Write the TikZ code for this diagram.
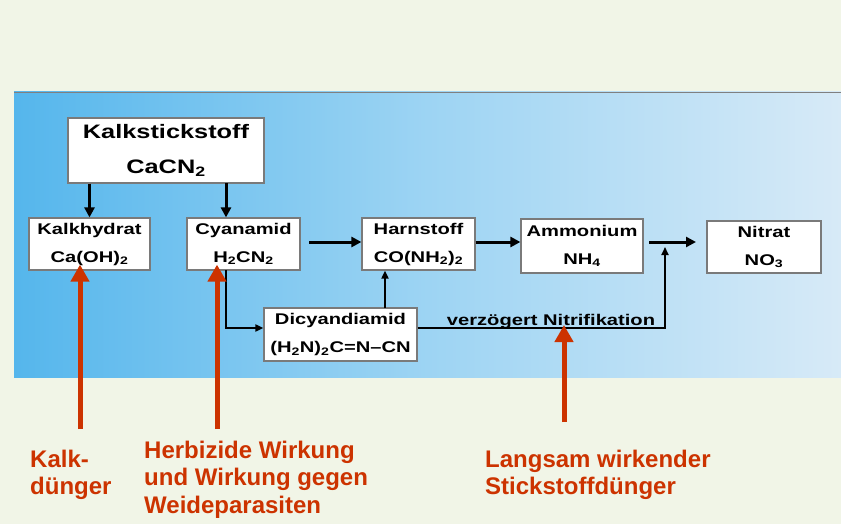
\documentclass[tikz,border=0pt]{standalone}
\usepackage{fontspec}
\setmainfont{Liberation Sans}
\newfontfamily\boxfont[FakeStretch=1.3]{Liberation Sans}
\usetikzlibrary{arrows.meta}
\definecolor{bgcream}{HTML}{F1F5E7}
\definecolor{blueL}{HTML}{55B6EC}
\definecolor{blueM}{HTML}{9DD4F3}
\definecolor{blueR}{HTML}{D7EAF7}
\definecolor{redA}{HTML}{CC3300}
\definecolor{boxgray}{HTML}{7A7A7A}
\begin{document}
\begin{tikzpicture}[x=1pt,y=-1pt,
  box/.style={draw=boxgray, line width=1.2pt, fill=white, inner sep=0pt, align=center,
    font=\boxfont\bfseries\fontsize{15.5}{28}\selectfont},
  bigbox/.style={box, font=\boxfont\bfseries\fontsize{19.5}{35}\selectfont},
  flow/.style={line width=3pt, -{Triangle[length=10pt,width=10pt]}},
  thinflow/.style={line width=1.8pt, -{Triangle[length=8pt,width=7pt]}},
  redarrow/.style={draw=redA, line width=5pt, -{Triangle[length=17pt,width=18pt]}},
  redlabel/.style={text=redA, font=\bfseries\fontsize{24}{27.5}\selectfont, align=left,
    inner sep=0pt, anchor=north west}]
\useasboundingbox (0,0) rectangle (841,524);
\fill[bgcream] (0,0) rectangle (841,524);
\shade[left color=blueL, right color=blueR, middle color=blueM] (14,92) rectangle (841,377);
\draw[gray, line width=0.8pt] (14,92) -- (841,92);

% boxes
\node[bigbox, minimum width=196pt, minimum height=65pt] (kalk) at (166,150.5) {Kalkstickstoff\\CaCN\textsubscript{2}};
\node[box, minimum width=121pt, minimum height=52pt] (hyd) at (89.5,244) {Kalkhydrat\\Ca(OH)\textsubscript{2}};
\node[box, minimum width=113pt, minimum height=52pt] (cyan) at (243.5,244) {Cyanamid\\H\textsubscript{2}CN\textsubscript{2}};
\node[box, minimum width=113pt, minimum height=52pt] (harn) at (418.5,244) {Harnstoff\\CO(NH\textsubscript{2})\textsubscript{2}};
\node[box, minimum width=153pt, minimum height=53pt] (dicy) at (340.5,334.5) {Dicyandiamid\\(H\textsubscript{2}N)\textsubscript{2}C=N–CN};
\node[box, minimum width=122pt, minimum height=54pt] (amm) at (582,246) {Ammonium\\NH\textsubscript{4}};
\node[box, minimum width=114pt, minimum height=52pt] (nit) at (764,247) {Nitrat\\NO\textsubscript{3}};
\node[font=\boxfont\bfseries\fontsize{15.5}{28}\selectfont, inner sep=0pt, anchor=base] (verz) at (551,325) {verzögert Nitrifikation};

% helper coordinates
\coordinate (cyanIn) at (226,183);
\coordinate (cyanOut) at (226,270);
\coordinate (dicyUp) at (385,308);
\coordinate (j) at (665,242);
\coordinate (a1) at (649,242);
\coordinate (a2) at (696,242);
\coordinate (c1) at (309,242);

% black arrows
\draw[flow] (hyd.north |- kalk.south) -- (hyd.north);
\draw[flow] (cyanIn) -- (cyanIn |- cyan.north);
\draw[flow] (c1) -- (c1 -| harn.west);
\draw[flow] (harn.east |- c1) -- (amm.west |- c1);
\draw[flow] (a1) -- (a2);
\draw[thinflow] (cyanOut) |- ([yshift=6.5pt]dicy.west);
\draw[thinflow] (dicyUp) -- (dicyUp |- harn.south);
\draw[thinflow] ([yshift=6.5pt]dicy.east) -| ([yshift=-5pt]j);

% red arrows
\coordinate (r1) at (80,429);
\coordinate (r2) at (217,429);
\coordinate (r3) at (564,422);
\draw[redarrow, shorten >=-6pt] (r1) -- (r1 |- hyd.south);
\draw[redarrow, shorten >=-6pt] (r2) -- (r2 |- cyan.south);
\draw[redarrow] (r3) -- (r3 |- verz.base);

% red labels
\node[redlabel] (l1) at (30,449.5) {Kalk-\\dünger};
\node[redlabel] (l2) at (144,440.5) {Herbizide Wirkung\\und Wirkung gegen\\Weideparasiten};
\node[redlabel] (l3) at (485,449.5) {Langsam wirkender\\Stickstoffdünger};
\end{tikzpicture}
\end{document}
